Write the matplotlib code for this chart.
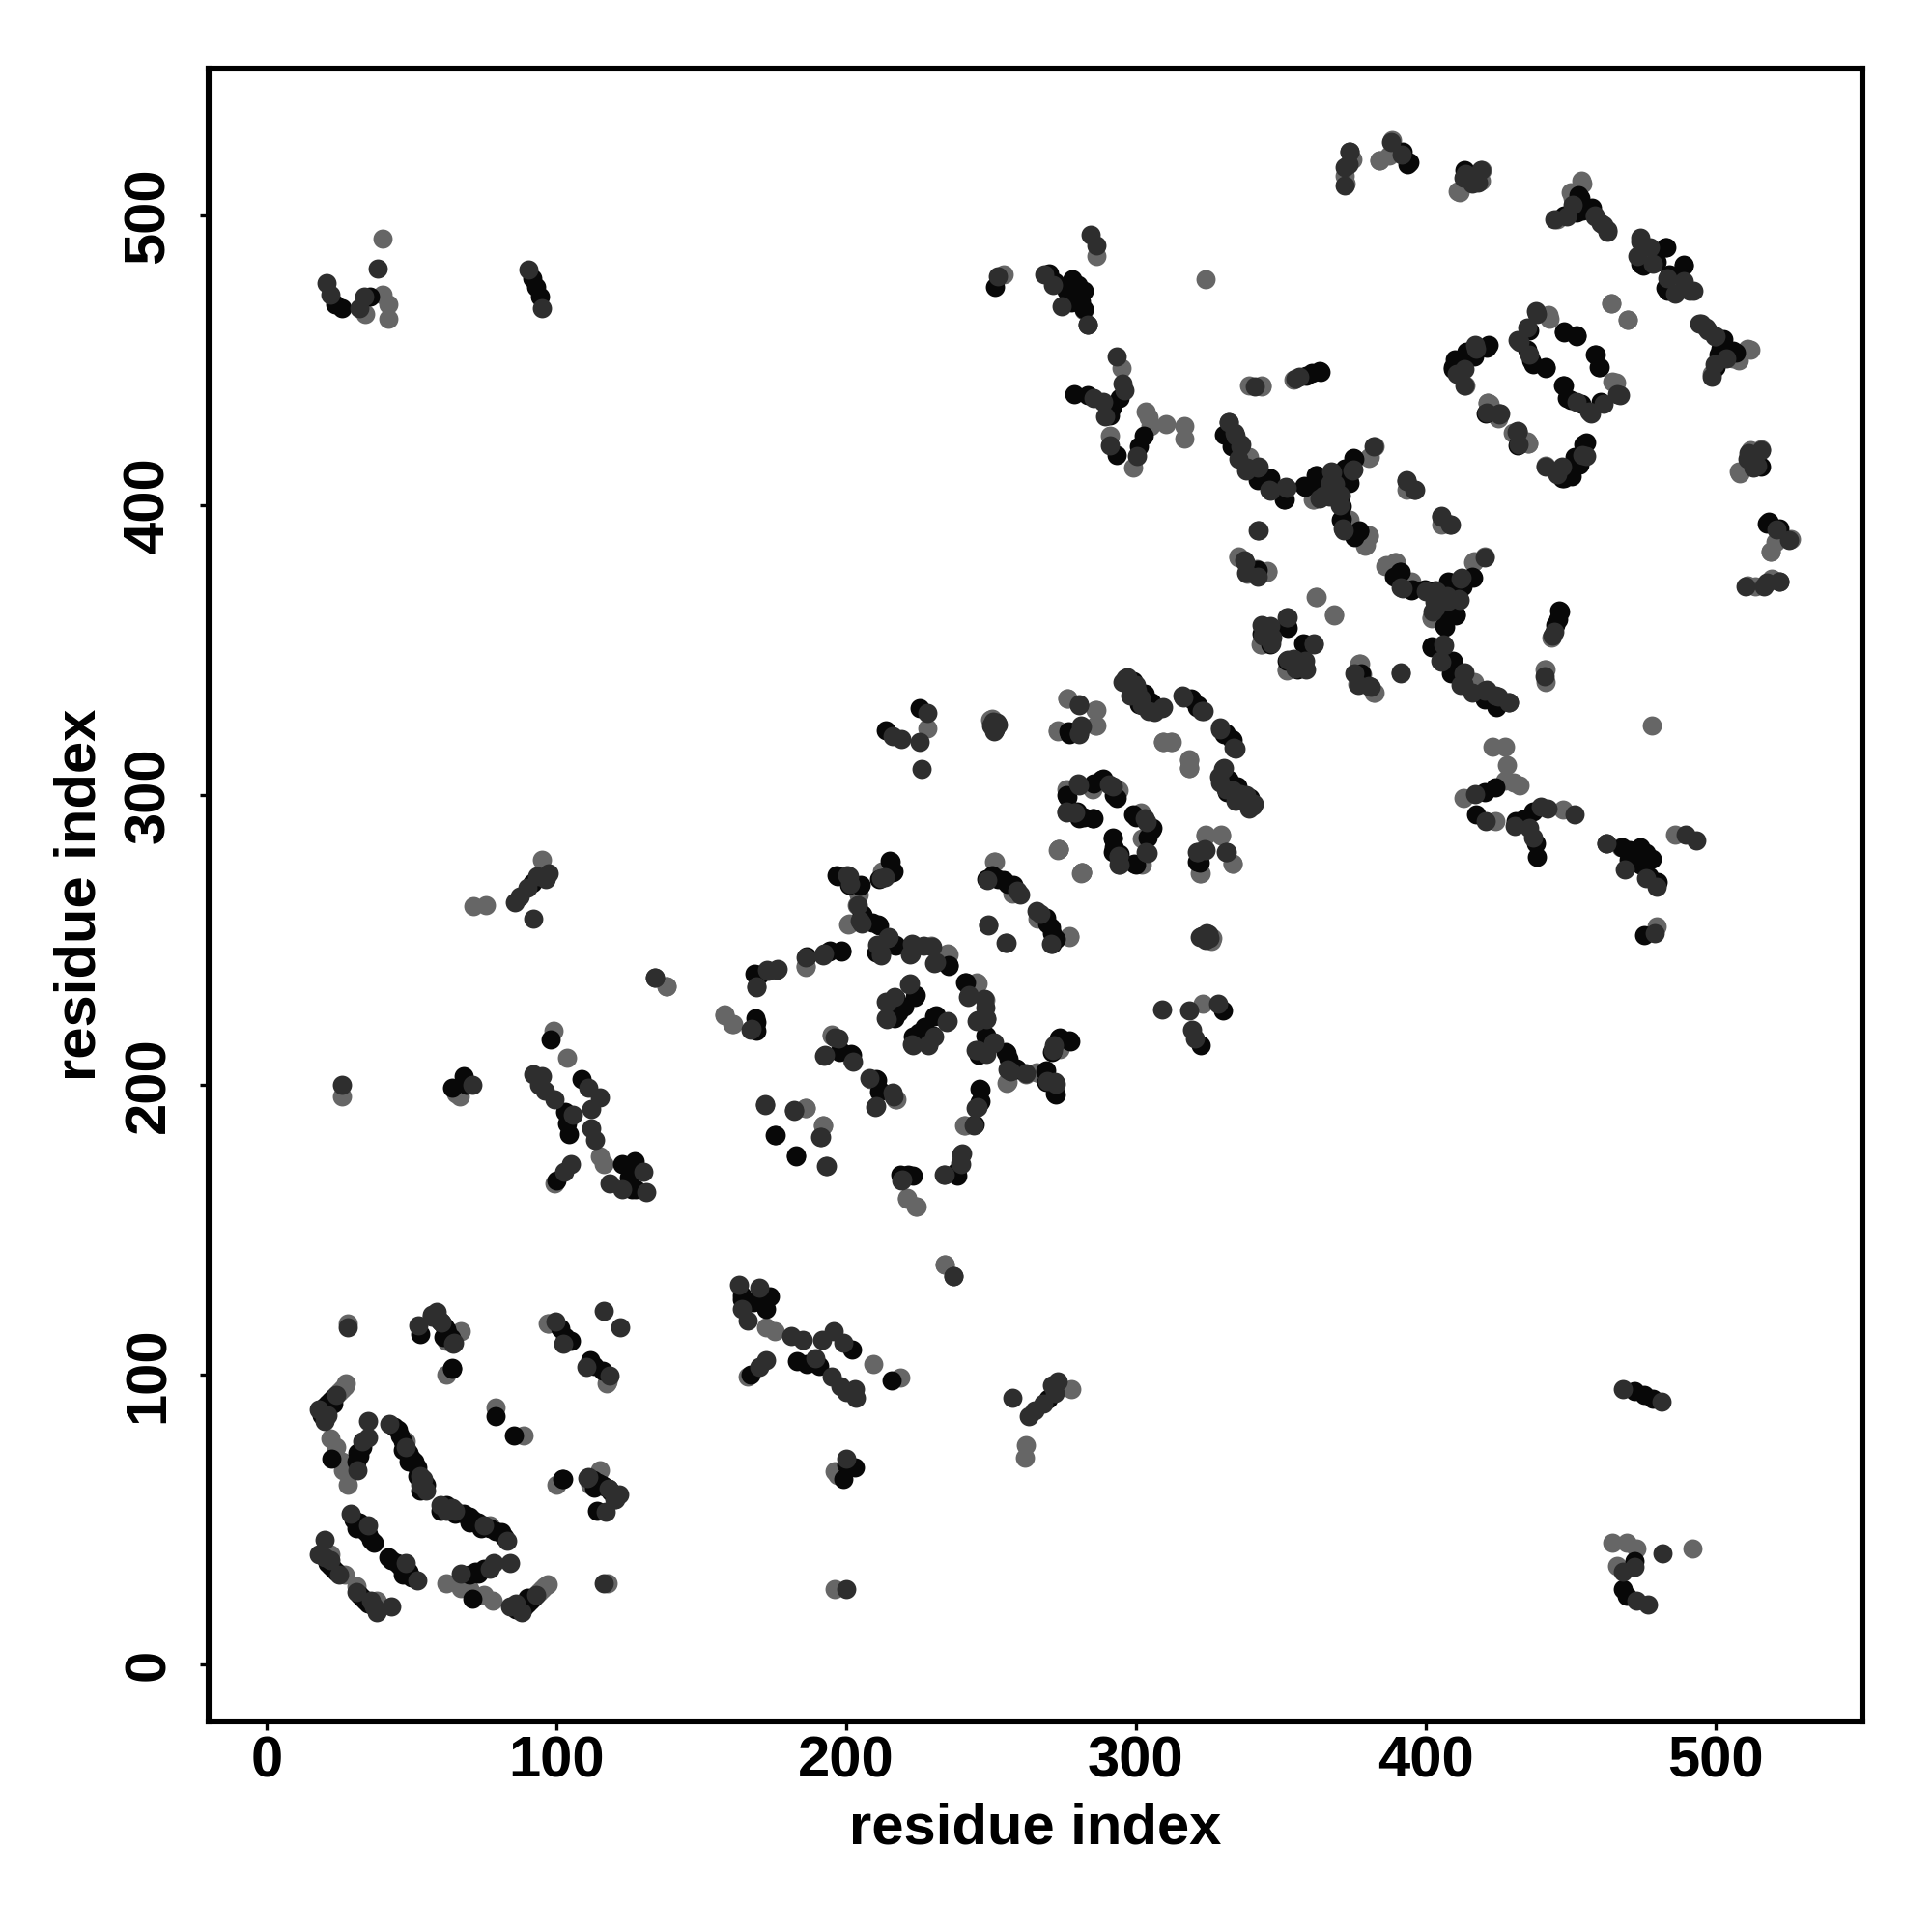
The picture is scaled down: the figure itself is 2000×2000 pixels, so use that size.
import matplotlib
matplotlib.use("Agg")
import matplotlib.pyplot as plt

# contact pairs, map is symmetric so each is drawn both ways
black_contacts = [
    (19,88),(20,89),(21,90),(22,91),(23,92),(22.5,71),(31,70),(31.4,73),(32,72),(33,75),(19,86),(21,88),(23,90),
    (44,82),(45.5,81),(46,79),(47,77),(49,73),(50,71),(51,70),(52,68),(55,62),(30,50),(31,47),(32,49),(34,46),(35,45),(36,43),(37,42),(47,74),(49,70),(52,65),(53,60),
    (21,35),(22,34),(23,33),(24,32),
    (53,114),(59.7,118.8),(61.4,116.6),(62.5,114.4),(63.6,112.7),(64,102),(79,85.5),
    (101.4,116),(103,113),(105,111.6),(64,102.3),(113,61),(115.8,62),(118,60.5),
    (64,199),(68,203),(69,200),(98,215.8),(103,190.7),(103.7,186.5),(104.5,183),(108.7,202),
    (122.8,172.5),(127,173.7),(125,168),(127.4,164),(126,164),(100,167),(91.8,269.8),
    (197,272),(204.6,268.8),(215.2,277),(216.3,273.8),(211.3,271),(205.7,258.8),(209,256),(211.3,254.9),(216.9,248.2),(211.3,246.6),
    (235.2,241),(168.5,238.2),(186.3,244.3),(194,246),(198.5,246),(169,221.5),(169,218.8),
    (224,231),(216.9,229.9),(218,224.9),(230.2,223.8),(223,216.6),(225.7,217.7),(227,220),(241.3,235.4),(248,217),(245.7,210.4),(248,211),
    (255.2,211),(259,205.4),(269,204.9),(269,201),(272.4,196.6),(273.5,216),(277.4,214.9),(246.3,198.2),(246.3,194.3),
    (198,211.6),(201.9,210.4),(210.7,201.6),(211.3,197.7),(175.7,182.7),(182.7,175.4),(220.7,168.8),(223,168.8),(238,170),
    (248.5,271),(252.4,271),(255.7,269.3),(269,257.7),(270.7,254.3),(272.4,250.4),(291.9,285),(305.7,288.8),
    (251.3,322.7),(276.9,321),(299,339.4),(304.6,332),(319,333.3),(321.3,331),(330.2,321),(333,319.4),(331.9,305.5),(331.3,301),(335,303),
    (276.3,299.4),(288,305.5),(292.4,299.9),(279.6,294.4),(280.2,292.1),(285.2,291.9),(299,293.3),(304,285.5),(292.4,282),(300,276),(322,276.6),(330,225.5),(322.4,213.7),
    (330.2,424.3),(333,420.4),(346.3,409.3),(341.9,408.8),(351.3,402),(358,406.6),(362.4,410.4),(362.4,407.7),(375.2,416),(371.9,412.7),(373.6,407.7),
    (370.8,403.2),(370.8,394.9),(376.9,391),(341.9,377.7),(352.4,357.7),(346.3,352),(358.6,352),(355.8,343.2),
    (391.3,377),(389,375.4),(395.2,371),(399.7,371),(408.6,373.2),(416.3,374.9),(406.9,362.1),(410.2,362.1),(406.3,358.2),(401.9,351),(409.3,346),(409.7,342.1),(424,331.6),
    (446.3,363.2),(444.7,358.8),(420.8,431.6),(446.9,409.3),(450.2,409.9),(451.3,416.6),(455.2,421.6),(448,411),(453,414),
    (424,302.7),(420.2,301),(417.4,293.2),(433.6,291.6),(436.9,294.3),(431,291),(438,283.2),(438.3,278.8),(462.4,283.2),(470.2,281),(473,279),(476,280),(474,276),(478,278),(477,272),(480,270),
    (394.2,518.3),(453.3,506),(452,501),(457.5,502.6),(483,489),(474,483.4),(479.6,483.9),(489,482.6),(482.6,475),(501.7,454),(500,447.8),(507,452.8),
    (515.7,413.3),(513.6,413.3),(517.8,393.8),(522,392),
    (435,453.7),(436.3,449.9),(441.4,447.3),(447.7,460),(452,458.4),(458.8,452),(459.6,447.8),(460.5,435.8),(447.7,441.4),(448.6,437),
    (409.5,447.8),(413.8,450.7),(421,454.5),(23.8,469.4),(25.9,468),(35.7,472),(91.8,478.3),(93,475.4),(94.3,472),
    (251.5,475.4),(277.8,474),(282,474),(277.8,470),(282,467.7),(360.7,445.6),(363.6,446),
]
dark_contacts = [
    (20,84),(18,88),(24,93),(21,86),(35,84),(35,78.3),(33,77),(31.4,67),(48,75),(53,65),(54,64),(53,62),(42.5,83),(55,60),(29,52),(35,48),(18,38),(20,37),(22,36),(25,31),(20,43),(28,116.3),
    (52.5,117),(58.6,121.6),(57,120.5),(64.7,111),(99.7,118.3),(102.5,110.5),(116.2,122),(64.4,110.8),(60.5,118),(57,120),
    (71,200),(92,203.5),(95,203),(94,200),(96,198),(99.4,195),(105.8,189.5),(111,199),(115,195.8),(112,191.6),(112,185),(113.4,181),(118.5,166),(131,163),(130,170),(122.8,164),(105,172.5),(102.8,170),
    (26,200),(85.8,263),(87.5,265),(90,268),(93.5,272),(96.4,271),(92,257.4),(134,237),(97.5,273),
    (201,272),(201.3,269.3),(213.5,271.6),(204,262),(204.6,256.6),(214.6,251),(210.7,248.2),(212,245.4),(223,248.2),(222.2,245.2),(230.2,242),(229.6,247.7),
    (169,233.8),(173,239.3),(176.3,239.9),(192.4,245.4),(167.4,219.3),(221.9,234.9),(214,228.2),(214,222.7),(234.6,221.6),(223,213.8),(228.5,213.8),(230.2,216.6),
    (242.4,231),(248,226.6),(245,222),(248.5,222.7),(250.7,214.3),(244.6,212),(255.7,205.4),(272.4,200.4),(271.3,212),(244.6,192),(244,186),
    (197.4,216),(192.4,210),(202.4,208),(210.2,192.7),(216.3,196),(172,193),(181.9,191),(191.3,182),(193.2,172),(219,167),(239.6,176),(239.6,172.7),(234,169),(237,134),
    (259,267),(265.7,260),(270.7,248.8),(249,254.9),(255.2,249),(294,278.8),(304,280),
    (250.7,325.5),(252.4,324.4),(280.2,331),(281.3,323.8),(280.2,321),(296.3,340.5),(300.2,336),(298,334.4),(301.9,331),(309,329.9),(306.3,328.8),(316.3,333.8),(323.2,329),(329,322.7),(334.4,316),
    (330.2,309.4),(329,304.4),(333.5,301.6),(338,300),(340.7,297.1),(339,295.5),(280.2,303.3),(290.7,303.8),(276,294),(303,292.1),(294,279),(294.4,276),(324,281),(321.3,280.5),(331.3,280.2),
    (321.9,251),(325,252),(324,250),(309,226),(318.2,225.5),(328.5,228),(319.5,219),(320.3,216),
    (331.9,428.8),(334,424.9),(336.3,421),(335.2,416),(342.4,413.2),(338,412),(346.3,404.9),(351.9,406),(364.7,403.2),(367.4,411.6),(366.9,407.7),(374.7,412),(370.2,399.9),(371.3,392),
    (393.3,408.2),(396.3,405.2),(405.2,396),(408.6,393.2),(342.4,391.2),(337.4,381),(338,376.6),(343.6,358.2),(346.3,358.2),(352.4,361.2),(343.6,354.9),(346.9,354.3),(361.3,352),(352.4,346.6),(358.6,343.2),
    (375.2,342.1),(380.2,337.7),(391.3,342.1),(391.3,371.6),(403.6,370.4),(412.4,374.9),(420.2,382.1),(411.3,367.7),(407.4,368.8),(403,366.6),(402.4,363.2),(406.3,351.6),(405.2,346),(413,342.1),(413,338.2),(420.2,336),(424,334.3),(428.6,332.1),(443.6,354.9),
    (425.2,431.6),(431.3,425.4),(431.9,421),(441.3,413.2),(446.9,413.2),(455.2,417),
    (416.9,300.4),(420.8,291),(430.8,289.3),(439.7,296),(441.9,295.4),(451.3,293.2),(435.8,288.8),(436.9,285.4),
    (373.8,522),(372,516.6),(391.7,521),(413.8,514.4),(415.9,511),(413,513),(444.3,498.7),(448.6,499.6),(458.4,499.6),(460.5,497.5),(462.6,495),(474,491),(477.5,489),(483.4,478.3),(486,473),(492.4,474),
    (494.5,462.6),(496.6,461.3),(500,458.4),(503.8,450.7),(511.5,418),(515.7,418.9),(525.5,387.9),(510.2,372),(517.8,373.4),(522,373.8),
    (431.6,457),(435,461.3),(438.4,466),(466.9,438),(456.2,432.5),(452,435.8),(410.8,445.2),(417.2,454),(425.7,431.6),
    (20.8,476.7),(22,472.8),(31.9,468),(38.2,481.7),(33.6,472),(90.5,481.3),(95,468),
    (268.5,479.6),(271.5,476),(274.4,468.6),(283.3,462.2),(284.2,493.2),(286.3,489.8),(356.4,444.3),(341,440.9),(252.3,479),
]
grey_contacts = [
    (25,94),(26,95),(27,96),(27.5,97),(22,78),(24,75),(26,70),(26.4,67),(28,62),(48,77),(33,47),(27,31),(22,38),(28,117.7),(67,115),(62,111.6),(62,100),(79,88.8),
    (97.5,117.7),(117.5,97),(65.4,197),(66.7,196),(26,196),(103.7,209.4),(99,218.8),(115,175.4),(116.4,172.5),(99.4,166),
    (71.4,261.7),(75.6,262),(95,277.8),(138,234),
    (204,266.6),(212.4,273.8),(200.7,255.4),(235.2,244.9),(186,241),(158,224.3),(160.7,221),(245.2,234.9),(248,229.3),(195,217),(208.5,202),(217.2,194.9),(186,191.9),(191.9,186),(240.7,186),(221,161),(224,158),(234,138),
    (261.9,203.8),(265.7,204.3),(255.7,201),(251.3,277),(257.4,266),(277,251),(273,281),(281.3,273.2),
    (249.6,326),(276.3,333.3),(286.3,329.4),(286.3,324.1),(273,322),(309.3,318.2),(312.2,318.2),(318.2,312.1),(318.2,309.4),(276.3,301.6),(285,303.3),(294,301.6),(301.3,293.8),(301.9,284.9),(302,276),
    (273.3,281.3),(281.3,273.3),(324,286),(329.3,286),(322.4,273),(333.3,276.3),(326.3,250.5),(323,228),
    (339,416.6),(361.3,402),(380.8,416.6),(382.4,420.4),(373.6,394.9),(380.2,389.3),(379,386),(405.2,393.2),(335.2,382),(345.4,377),(362.4,368.2),(368.3,362.1),(343,352),(358,346),(351.9,343.2),
    (377.4,345.2),(378,341.6),(376.3,338.2),(382.4,335.2),(386.3,379.3),(389.7,380.4),(393.6,373.8),(416.3,380.4),(401.9,361),(416.3,338.8),(441.3,343.2),(441.3,339),
    (421.3,435.4),(435.2,421.2),(423,316.6),(427.4,316.6),(428,310.4),(430.2,304.3),(427.4,304.9),(432.4,303.2),(413,299),(424,291),(447.4,295.1),(467.4,282.1),
    (372.5,511),(374.7,519.5),(384,519),(388.3,526),(387.4,520.8),(411.6,508),(419.3,515.8),(419,512),(450.7,506),(454.1,511),(286.3,486),(498.7,445.2),(512,453.7),(508,449.9),(463.9,469.8),(469.8,463.9),
    (508.5,411),(519,384),(513.6,372),(442.6,464.3),(465.6,442.2),(413.8,441.4),(34,466),(40,491.9),(40,472.8),(42,469.4),(42,464.3),
    (254.5,479.6),(324,478),(343.2,440.9),(354.3,443.5),(422,435),(425,430),(431.6,425),
]
tick_values = [0, 100, 200, 300, 400, 500]

plt.rcParams['font.family'] = ['Liberation Sans', 'DejaVu Sans']
plt.rcParams['font.weight'] = 'bold'

fig = plt.figure(figsize=(20, 20), dpi=100)
ax = fig.add_axes([0.108, 0.109, 0.856, 0.8555])

# grey goes under, the darker contacts cover it inside the strands
for pairs, col in [(grey_contacts, '#666666'), (black_contacts, '#080808'), (dark_contacts, '#2e2e2e')]:
    i = [p[0] for p in pairs]
    j = [p[1] for p in pairs]
    ax.scatter(i + j, j + i, s=205, c=col, linewidths=0, zorder=3)

ax.set_xlim(-20, 550.7)
ax.set_ylim(-19.7, 550.7)
ax.set_xticks(tick_values)
ax.set_yticks(tick_values)
ax.tick_params(length=6.5, width=2.4, labelsize=43)
ax.tick_params(axis='x', pad=4)
ax.tick_params(axis='y', pad=18)
plt.setp(ax.get_yticklabels(), rotation=90, va='center')
ax.set_xlabel('residue index', fontsize=43, fontweight='bold', labelpad=10)
ax.set_ylabel('residue index', fontsize=43, fontweight='bold', labelpad=12)
for s in ax.spines.values():
    s.set_linewidth(4.4)

fig.savefig('out.png', dpi=100, facecolor='white')
